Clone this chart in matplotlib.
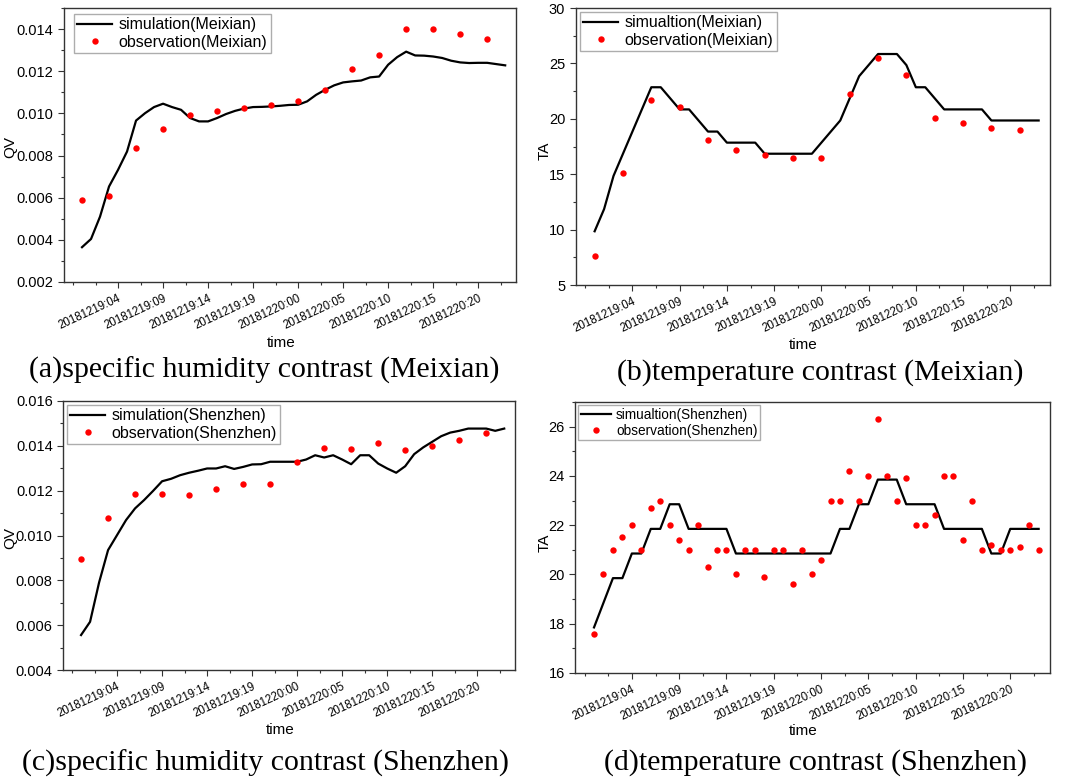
import numpy as np
import matplotlib
matplotlib.use('Agg')
import matplotlib.pyplot as plt
from matplotlib.ticker import MultipleLocator, FixedLocator, FormatStrFormatter

plt.rcParams['font.family'] = ['Liberation Sans', 'DejaVu Sans']

# hourly index from 20181219:00
sim_hours = np.arange(48)
obs_hours_3h = np.arange(0, 48, 3)
obs_hours_1h = np.arange(48)

tick_hours = [4, 9, 14, 19, 24, 29, 34, 39, 44]
tick_labels = ['20181219:04', '20181219:09', '20181219:14', '20181219:19',
               '20181220:00', '20181220:05', '20181220:10', '20181220:15',
               '20181220:20']

# (a) specific humidity, Meixian
qv_sim_meixian = [0.00365, 0.00404, 0.0051, 0.00653, 0.00732, 0.00819, 0.00966, 0.01001,
                  0.0103, 0.01046, 0.0103, 0.01017, 0.00978, 0.00962, 0.00962, 0.00978,
                  0.00997, 0.01012, 0.01023, 0.0103, 0.01031, 0.01033, 0.01036, 0.0104,
                  0.01041, 0.01057, 0.01088, 0.01112, 0.01133, 0.01147, 0.01152, 0.01156,
                  0.01171, 0.01175, 0.01231, 0.01267, 0.01293, 0.01275, 0.01274, 0.0127,
                  0.01263, 0.0125, 0.01242, 0.01239, 0.0124, 0.0124, 0.01234, 0.01228]
qv_obs_meixian = [0.0059, 0.00607, 0.00837, 0.00924, 0.00992, 0.01012, 0.01027, 0.01041,
                  0.01057, 0.01112, 0.01213, 0.01277, 0.01402, 0.01402, 0.01377, 0.01351]

# (b) temperature, Meixian
ta_sim_meixian = [9.85, 11.85, 14.85, 16.85, 18.85, 20.85, 22.85, 22.85, 21.85, 20.85,
                  20.85, 19.85, 18.85, 18.85, 17.85, 17.85, 17.85, 17.85, 16.85, 16.85,
                  16.85, 16.85, 16.85, 16.85, 17.85, 18.85, 19.85, 21.85, 23.85, 24.85,
                  25.85, 25.85, 25.85, 24.85, 22.85, 22.85, 21.85, 20.85, 20.85, 20.85,
                  20.85, 20.85, 19.85, 19.85, 19.85, 19.85, 19.85, 19.85]
ta_obs_meixian = [7.65, 15.1, 21.7, 21.1, 18.1, 17.2, 16.7, 16.5,
                  16.5, 22.2, 25.5, 24.0, 20.1, 19.6, 19.2, 19.0]

# (c) specific humidity, Shenzhen
qv_sim_shenzhen = [0.00556, 0.00615, 0.0079, 0.00935, 0.01002, 0.01069, 0.01121, 0.01158,
                   0.01199, 0.01242, 0.01253, 0.01269, 0.0128, 0.01289, 0.01299, 0.01299,
                   0.01309, 0.01297, 0.01306, 0.01317, 0.01318, 0.01329, 0.01329, 0.01329,
                   0.01329, 0.01339, 0.01358, 0.01348, 0.01358, 0.01339, 0.01318, 0.01358,
                   0.01358, 0.01321, 0.01299, 0.0128, 0.01309, 0.01363, 0.01393, 0.01418,
                   0.01443, 0.01459, 0.01467, 0.01477, 0.01477, 0.01477, 0.01467, 0.01477]
qv_obs_shenzhen = [0.00895, 0.01078, 0.01185, 0.01185, 0.01182, 0.01206, 0.01231, 0.01231,
                   0.01329, 0.0139, 0.01385, 0.01413, 0.01382, 0.01401, 0.01428, 0.01456]

# (d) temperature, Shenzhen
ta_sim_shenzhen = [17.85, 18.85, 19.85, 19.85, 20.85, 20.85, 21.85, 21.85, 22.85, 22.85,
                   21.85, 21.85, 21.85, 21.85, 21.85, 20.85, 20.85, 20.85, 20.85, 20.85,
                   20.85, 20.85, 20.85, 20.85, 20.85, 20.85, 21.85, 21.85, 22.85, 22.85,
                   23.85, 23.85, 23.85, 22.85, 22.85, 22.85, 22.85, 21.85, 21.85, 21.85,
                   21.85, 21.85, 20.85, 20.85, 21.85, 21.85, 21.85, 21.85]
ta_obs_shenzhen = [17.6, 20.0, 21.0, 21.5, 22.0, 21.0, 22.7, 23.0, 22.0, 21.4, 21.0, 22.0,
                   20.3, 21.0, 21.0, 20.0, 21.0, 21.0, 19.9, 21.0, 21.0, 19.6, 21.0, 20.0,
                   20.6, 23.0, 23.0, 24.2, 23.0, 24.0, 26.3, 24.0, 23.0, 23.9, 22.0, 22.0,
                   22.4, 24.0, 24.0, 21.4, 23.0, 21.0, 21.2, 21.0, 21.0, 21.1, 22.0, 21.0]

fig = plt.figure(figsize=(10.65, 7.8), dpi=100)

panels = [
    # rect, sim, obs x, obs, ylim, major, minor, fmt, ylabel, labels, legend anchor/size,
    # caption, caption pos, "time" y, ylabel pos
    ([0.0601, 0.6385, 0.4244, 0.3512], qv_sim_meixian, obs_hours_3h, qv_obs_meixian,
     (0.002, 0.015), 0.002, 0.001, '%.3f', 'QV',
     'simulation(Meixian)', 'observation(Meixian)', (0.022, 0.978), 11.5,
     '(a)specific humidity contrast (Meixian)', (0.248, 0.5256), -0.223, (0.0094, 0.811)),
    ([0.5406, 0.6346, 0.4453, 0.3551], ta_sim_meixian, obs_hours_3h, ta_obs_meixian,
     (5, 30), 5, 2.5, '%d', 'TA',
     'simualtion(Meixian)', 'observation(Meixian)', (0.009, 0.986), 11.5,
     '(b)temperature contrast (Meixian)', (0.770, 0.523), -0.217, (0.511, 0.807)),
    ([0.0592, 0.141, 0.4244, 0.3449], qv_sim_shenzhen, obs_hours_3h, qv_obs_shenzhen,
     (0.004, 0.016), 0.002, 0.001, '%.3f', 'QV',
     'simulation(Shenzhen)', 'observation(Shenzhen)', (0.009, 0.985), 11.5,
     '(c)specific humidity contrast (Shenzhen)', (0.249, 0.0218), -0.223, (0.0094, 0.310)),
    ([0.540, 0.1372, 0.4459, 0.3474], ta_sim_shenzhen, obs_hours_1h, ta_obs_shenzhen,
     (16, 27), 2, 1, '%d', 'TA',
     'simualtion(Shenzhen)', 'observation(Shenzhen)', (0.006, 0.989), 9.8,
     '(d)temperature contrast (Shenzhen)', (0.766, 0.0218), -0.214, (0.511, 0.304)),
]

for (rect, sim, obs_x, obs, ylim, major, minor, fmt, ylab, sim_lab, obs_lab,
     anchor, lsize, caption, cap_pos, time_y, ylab_pos) in panels:
    ax = fig.add_axes(rect)
    ax.plot(sim_hours, sim, color='black', lw=1.6, label=sim_lab)
    ax.plot(obs_x, obs, 'o', color='#ff0000', ms=4.6, mec='none', label=obs_lab)

    ax.set_xlim(-2, 48.2)
    ax.set_ylim(*ylim)
    ax.xaxis.set_major_locator(FixedLocator(tick_hours))
    # minor ticks 2.5 h apart, starting at -1
    ax.xaxis.set_minor_locator(FixedLocator(np.arange(-1, 48, 2.5)))
    ax.set_xticklabels(tick_labels, rotation=25, ha='right', rotation_mode='anchor', fontsize=8.3)
    ax.yaxis.set_major_locator(MultipleLocator(major))
    ax.yaxis.set_minor_locator(MultipleLocator(minor))
    ax.yaxis.set_major_formatter(FormatStrFormatter(fmt))
    ax.tick_params(axis='y', labelsize=10.5)
    ax.tick_params(which='major', direction='out', length=4, width=0.8, color='#333333')
    ax.tick_params(which='minor', direction='out', length=2.5, width=0.8, color='#333333')
    for sp in ax.spines.values():
        sp.set_color('#333333')
        sp.set_linewidth(1.0)

    leg = ax.legend(loc='upper left', bbox_to_anchor=anchor, borderaxespad=0,
                    fontsize=lsize, frameon=True, fancybox=False, numpoints=1,
                    handlelength=2.2, handletextpad=0.4, labelspacing=0.15,
                    borderpad=0.2)
    leg.get_frame().set_edgecolor('#999999')
    leg.get_frame().set_linewidth(1.0)

    ax.text(0.48, time_y, 'time', transform=ax.transAxes, ha='center', va='center',
            fontsize=11)
    fig.text(ylab_pos[0], ylab_pos[1], ylab, rotation=90, ha='center', va='center',
             fontsize=11)
    fig.text(cap_pos[0], cap_pos[1], caption, ha='center', va='center',
             family=['Liberation Serif', 'DejaVu Serif'], fontsize=21.5)

fig.savefig('out.png', dpi=100)
